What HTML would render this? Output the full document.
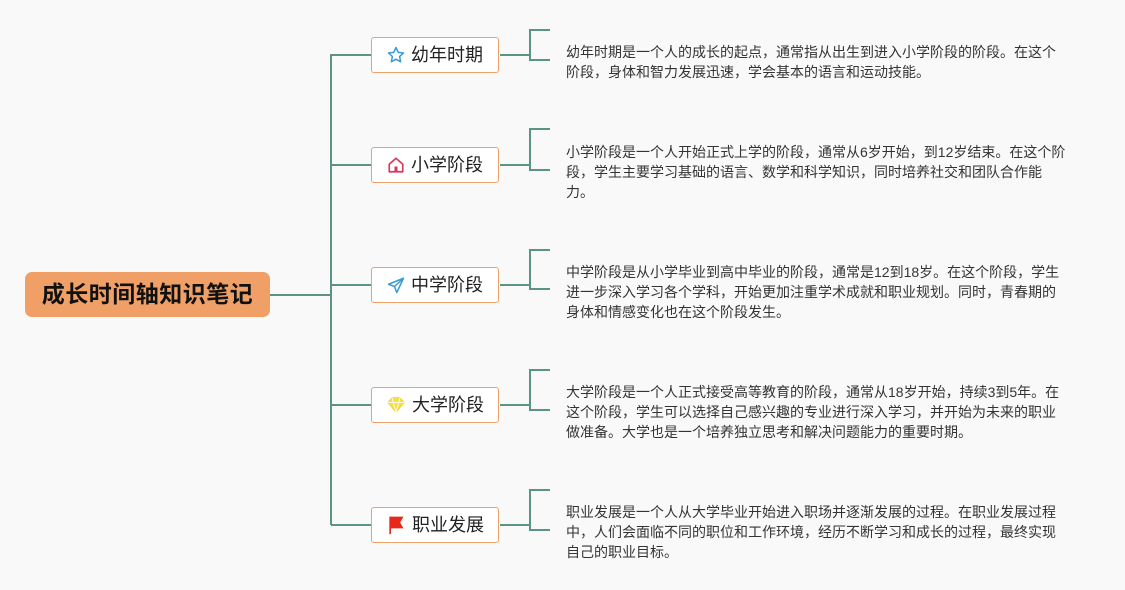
<!DOCTYPE html>
<html><head><meta charset="utf-8"><style>
body{margin:0;width:1125px;height:590px;background:#f9f9fa;position:relative;overflow:hidden;font-family:"Liberation Sans","Noto Sans CJK SC",sans-serif;}
.root{position:absolute;left:25px;top:272px;width:245px;height:45px;background:#f0a066;border-radius:7px;color:#111;font-weight:bold;font-size:23px;line-height:45px;text-align:center;letter-spacing:0.5px;}
.node{position:absolute;left:371px;width:126px;height:34px;background:#fff;border:1.5px solid #eda26a;border-radius:3px;font-size:18px;color:#222;line-height:34px;display:flex;align-items:center;justify-content:center;gap:6px;}
.txt{position:absolute;left:566px;font-size:14px;line-height:20px;color:#333;white-space:nowrap;}
svg{position:absolute;left:0;top:0;}
</style></head><body>
<svg width="1125" height="590">
<g stroke="#5b9486" stroke-width="2" fill="none">
<path d="M270 295H331M331 54V525M331 55H371M331 165H371M331 285H371M331 405H371M331 525H371"/>
<path d="M500 55H530M550 30H530V60H550"/>
<path d="M500 165H530M550 129H530V170H550"/>
<path d="M500 285H530M550 250H530V289H550"/>
<path d="M500 405H530M550 370H530V410H550"/>
<path d="M500 525H530M550 490H530V530H550"/>
</g>
</svg>
<div class="root">成长时间轴知识笔记</div>
<div class="node" style="top:37px"><svg style="position:static" width="18" height="18" viewBox="0 0 24 24"><path d="M12 2l3 6.5 7 .8-5.2 4.8 1.4 7L12 17.6 5.8 21l1.4-7L2 9.3l7-.8z" fill="none" stroke="#3a9ad9" stroke-width="2" stroke-linejoin="round"/></svg>幼年时期</div>
<div class="node" style="top:147px"><svg style="position:static" width="18" height="18" viewBox="0 0 24 24"><path d="M3 11L12 3l9 8v10H3z" fill="none" stroke="#d9365e" stroke-width="2.2" stroke-linejoin="round"/><rect x="10" y="14" width="4" height="7" fill="#d9365e"/></svg>小学阶段</div>
<div class="node" style="top:267px"><svg style="position:static" width="18" height="18" viewBox="0 0 24 24"><path d="M22 3L2 11l8 3 3 8z M10 14L22 3" fill="none" stroke="#3a9ad9" stroke-width="2" stroke-linejoin="round"/></svg>中学阶段</div>
<div class="node" style="top:387px"><svg style="position:static" width="20" height="18" viewBox="0 0 24 22"><path d="M2 8l5-6h10l5 6-10 12z" fill="#f5e04a" stroke="#f0d020" stroke-width="1"/><path d="M2 8h20M7 2l5 18 5-18" fill="none" stroke="#fff" stroke-width="1"/></svg>大学阶段</div>
<div class="node" style="top:507px"><svg style="position:static" width="20" height="20" viewBox="0 0 24 24"><path d="M4 2h17l-4 7 4 7H6v7H4z" fill="#e8281a"/></svg>职业发展</div>
<div class="txt" style="top:42px">幼年时期是一个人的成长的起点，通常指从出生到进入小学阶段的阶段。在这个<br>阶段，身体和智力发展迅速，学会基本的语言和运动技能。</div>
<div class="txt" style="top:142px">小学阶段是一个人开始正式上学的阶段，通常从6岁开始，到12岁结束。在这个阶<br>段，学生主要学习基础的语言、数学和科学知识，同时培养社交和团队合作能<br>力。</div>
<div class="txt" style="top:262px">中学阶段是从小学毕业到高中毕业的阶段，通常是12到18岁。在这个阶段，学生<br>进一步深入学习各个学科，开始更加注重学术成就和职业规划。同时，青春期的<br>身体和情感变化也在这个阶段发生。</div>
<div class="txt" style="top:382px">大学阶段是一个人正式接受高等教育的阶段，通常从18岁开始，持续3到5年。在<br>这个阶段，学生可以选择自己感兴趣的专业进行深入学习，并开始为未来的职业<br>做准备。大学也是一个培养独立思考和解决问题能力的重要时期。</div>
<div class="txt" style="top:502px">职业发展是一个人从大学毕业开始进入职场并逐渐发展的过程。在职业发展过程<br>中，人们会面临不同的职位和工作环境，经历不断学习和成长的过程，最终实现<br>自己的职业目标。</div>
</body></html>
